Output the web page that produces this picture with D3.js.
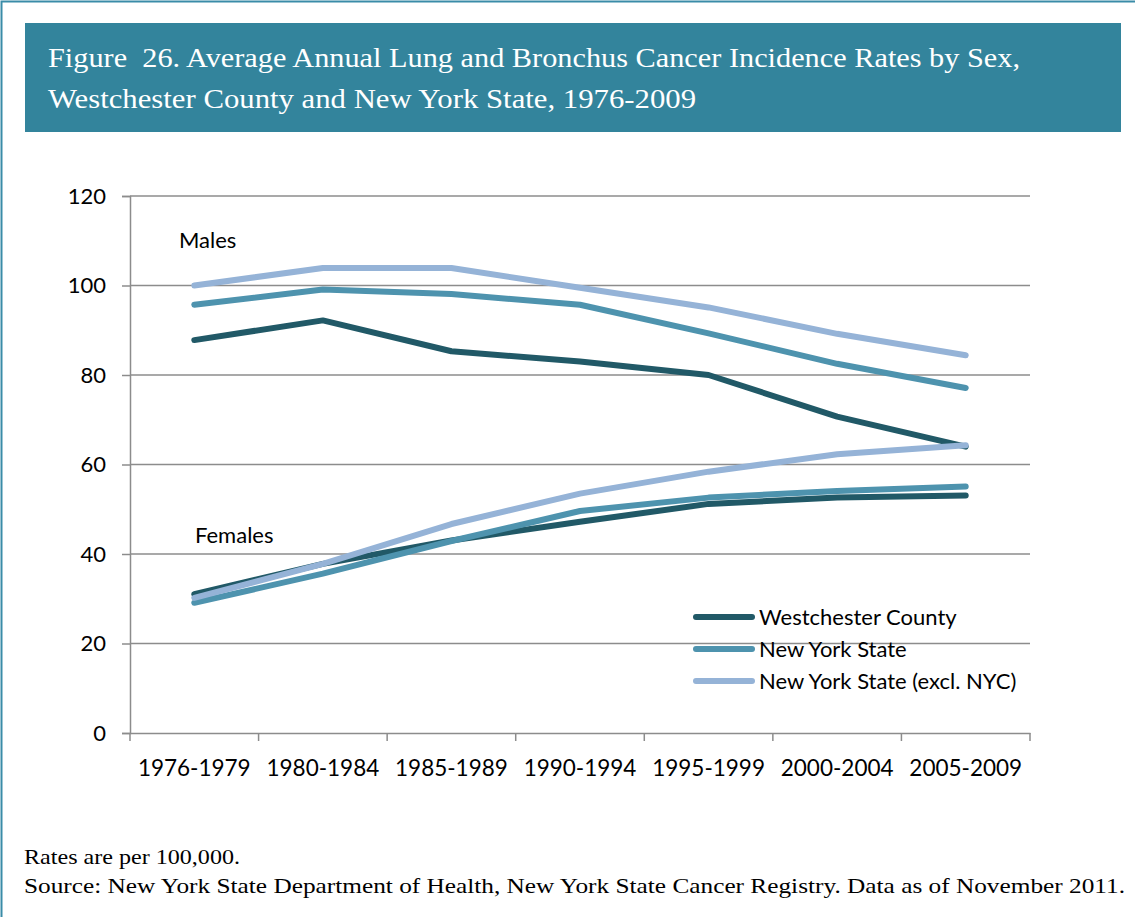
<!DOCTYPE html>
<html>
<head>
<meta charset="utf-8">
<script src="https://cdn.jsdelivr.net/npm/d3@7"></script>
<style>
  body { margin: 0; background: #fff; }
  svg { display: block; }
</style>
</head>
<body>
<script>
// categories and series
const periods = ["1976-1979", "1980-1984", "1985-1989", "1990-1994", "1995-1999", "2000-2004", "2005-2009"];
const westMales = [87.8, 92.2, 85.3, 83.0, 80.0, 70.7, 64.0];
const nysMales = [95.7, 99.1, 98.1, 95.7, 89.3, 82.5, 77.1];
const nysExclMales = [100.0, 103.9, 103.9, 99.5, 95.1, 89.2, 84.4];
const westFemales = [31.0, 37.8, 43.0, 47.2, 51.2, 52.6, 53.1];
const nysFemales = [29.1, 35.6, 42.9, 49.6, 52.6, 54.1, 55.1];
const nysExclFemales = [30.2, 37.8, 46.7, 53.5, 58.4, 62.3, 64.3];
const seriesNames = ["Westchester County", "New York State", "New York State (excl. NYC)"];
const seriesColors = ["#215967", "#4e93ae", "#95b3d7"];
const yTicks = [0, 20, 40, 60, 80, 100, 120];

const W = 1135, H = 917;
const sans = "Lato, 'Open Sans', sans-serif";
const svg = d3.select("body").append("svg").attr("width", W).attr("height", H);

// outer frame (only top & left visible)
svg.append("path")
  .attr("d", `M 1.5 ${H} L 1.5 1.5 L ${W} 1.5`)
  .attr("fill", "none")
  .attr("stroke", "#3a8ca8")
  .attr("stroke-width", 2);

// title banner
svg.append("rect")
  .attr("x", 25).attr("y", 23)
  .attr("width", 1096).attr("height", 109)
  .attr("fill", "#33849c");

const title = svg.append("text")
  .attr("font-family", "'Liberation Serif', 'DejaVu Serif', serif")
  .attr("font-size", 28)
  .attr("fill", "#fff");
title.append("tspan").attr("x", 48).attr("y", 67)
  .attr("xml:space", "preserve")
  .attr("textLength", 972).attr("lengthAdjust", "spacingAndGlyphs")
  .text("Figure  26. Average Annual Lung and Bronchus Cancer Incidence Rates by Sex,");
title.append("tspan").attr("x", 48).attr("y", 108)
  .attr("textLength", 648).attr("lengthAdjust", "spacingAndGlyphs")
  .text("Westchester County and New York State, 1976-2009");

const plot = { left: 130, right: 1030, top: 196, bottom: 733 };

const x = d3.scaleBand().domain(periods).range([plot.left, plot.right]);
const y = d3.scaleLinear().domain([0, 120]).range([plot.bottom, plot.top]);

const g = svg.append("g");

// gridlines
g.selectAll("line.grid")
  .data(yTicks.filter(d => d > 0))
  .join("line")
  .attr("class", "grid")
  .attr("x1", plot.left).attr("x2", plot.right)
  .attr("y1", d => y(d)).attr("y2", d => y(d))
  .attr("stroke", "#8c8c8c")
  .attr("stroke-width", 1.5);

// y axis
const yAxis = g.append("g")
  .attr("transform", `translate(${plot.left},0)`)
  .call(d3.axisLeft(y).tickValues(yTicks).tickSize(8).tickPadding(16));
yAxis.select(".domain").attr("stroke", "#8c8c8c").attr("stroke-width", 1.5);
yAxis.selectAll(".tick line").attr("stroke", "#8c8c8c").attr("stroke-width", 1.5);
yAxis.selectAll(".tick text")
  .attr("font-family", sans)
  .attr("font-size", 22)
  .attr("fill", "#000");

// x axis, ticks at band boundaries
const xAxis = g.append("g")
  .attr("transform", `translate(0,${plot.bottom})`)
  .call(d3.axisBottom(x).tickSize(0).tickPadding(27));
xAxis.select(".domain").attr("stroke", "#8c8c8c").attr("stroke-width", 1.5);
xAxis.selectAll(".tick text")
  .attr("font-family", sans)
  .attr("font-size", 22.5)
  .attr("fill", "#000");
const edges = periods.map(p => x(p)).concat([plot.right]);
xAxis.selectAll("line.edge")
  .data(edges)
  .join("line")
  .attr("class", "edge")
  .attr("x1", d => d).attr("x2", d => d)
  .attr("y1", 0).attr("y2", 8)
  .attr("stroke", "#8c8c8c")
  .attr("stroke-width", 1.5);

// lines
const line = d3.line()
  .x((d, i) => x(periods[i]) + x.bandwidth() / 2)
  .y(d => y(d));

const groups = [
  [westMales, nysMales, nysExclMales],
  [westFemales, nysFemales, nysExclFemales]
];
groups.forEach(set => {
  set.forEach((vals, k) => {
    g.append("path")
      .datum(vals)
      .attr("d", line)
      .attr("fill", "none")
      .attr("stroke", seriesColors[k])
      .attr("stroke-width", 6)
      .attr("stroke-linecap", "round")
      .attr("stroke-linejoin", "round");
  });
});

// annotations
g.append("text").attr("x", 179).attr("y", 248)
  .attr("font-family", sans)
  .attr("font-size", 22).text("Males");
g.append("text").attr("x", 195).attr("y", 543)
  .attr("font-family", sans)
  .attr("font-size", 22).text("Females");

// legend
const legend = g.append("g").attr("transform", "translate(696,617)");
seriesNames.forEach((name, k) => {
  const row = legend.append("g").attr("transform", `translate(0,${k * 32})`);
  row.append("line")
    .attr("x1", 0).attr("x2", 56)
    .attr("y1", 0).attr("y2", 0)
    .attr("stroke", seriesColors[k])
    .attr("stroke-width", 6)
    .attr("stroke-linecap", "round");
  row.append("text")
    .attr("x", 63).attr("y", 8)
    .attr("font-family", sans)
    .attr("font-size", 22)
    .attr("fill", "#000")
    .text(name);
});

// footnotes
const foot = svg.append("g")
  .attr("font-family", "'Liberation Serif', serif")
  .attr("font-size", 21)
  .attr("fill", "#000");
foot.append("text").attr("x", 24).attr("y", 864)
  .attr("textLength", 216).attr("lengthAdjust", "spacingAndGlyphs")
  .text("Rates are per 100,000.");
foot.append("text").attr("x", 24).attr("y", 893)
  .attr("textLength", 1101).attr("lengthAdjust", "spacingAndGlyphs")
  .text("Source: New York State Department of Health, New York State Cancer Registry. Data as of November 2011.");
</script>
</body>
</html>
